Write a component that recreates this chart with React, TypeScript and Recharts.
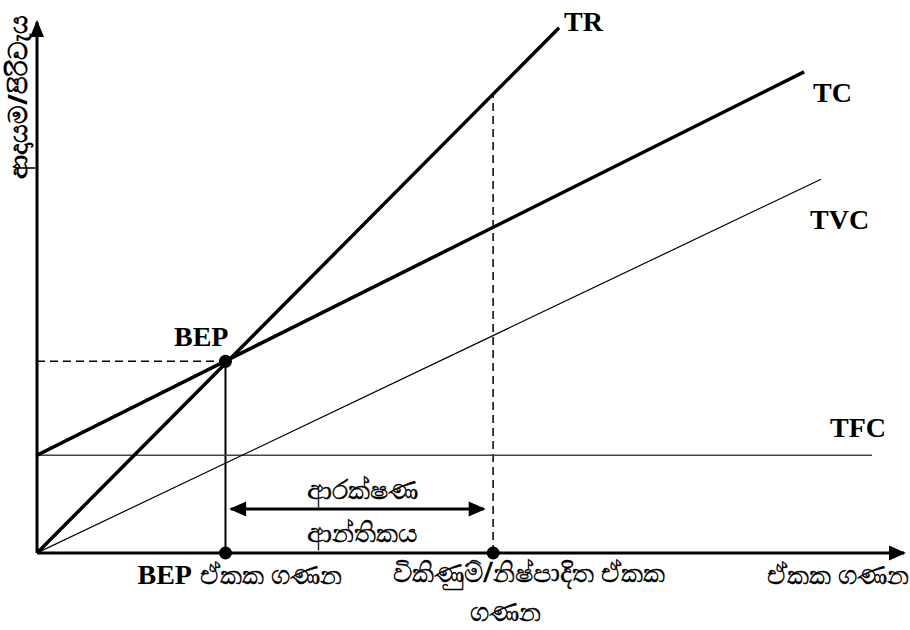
import { LineChart, Line, XAxis, YAxis, ReferenceLine, ReferenceDot } from "recharts";

// x = units, y = revenue / cost
const trQ = [0, 27.7];
const trV = [0, 274];
const tcQ = [0, 40.7];
const tcV = [51, 251];
const tvcQ = [0, 41.6];
const tvcV = [0, 195];
const tfcQ = [0, 44.3];
const tfcV = [51, 51];

const bepQ = 10;
const bepV = 100;
const salesQ = 24.2;
const salesV = 240;
const mosFrom = 10.3;
const mosTo = 23.7;
const mosLevel = 23;
const xMax = 46;
const yMax = 277;

const seriesNames = ["TR", "TC", "TVC", "TFC"];
const yTitle = "ආදායම/පිරිවැය";
const bepTitle = ["BEP", "ඒකක ගණන"];
const salesTitle = ["විකිණුම්/නිෂ්පාදිත ඒකක", "ගණන"];
const xTitle = "ඒකක ගණන";
const mosTitle = ["ආරක්ෂණ", "ආන්තිකය"];

const toRows = (qs: number[], vs: number[]) => qs.map((q, i) => ({ q, v: vs[i] }));

const SERIF = '"Liberation Serif", "Times New Roman", serif';
const SI = '"Noto Sans", "DejaVu Sans", sans-serif';

const serifStyle = { fontFamily: SERIF, fontWeight: 700, fontSize: 28, fill: "#000" };
const siStyle = { fontFamily: SI, fontWeight: 400, fontSize: 27, fill: "#000", stroke: "#000", strokeWidth: 0.5 };

// text placed relative to a reference point
const tag = (text: string, dx: number, dy: number, style: any, anchor = "start") => (p: any) => (
  <text x={p.cx + dx} y={p.cy + dy} textAnchor={anchor} style={style}>
    {text}
  </text>
);

const arrowHead = (dir: "up" | "right" | "left") => (p: any) => {
  const { cx, cy } = p;
  let pts = "";
  if (dir === "right") pts = `${cx + 2},${cy} ${cx - 15},${cy - 7.5} ${cx - 15},${cy + 7.5}`;
  if (dir === "left") pts = `${cx - 2},${cy} ${cx + 15},${cy - 7.5} ${cx + 15},${cy + 7.5}`;
  if (dir === "up") pts = `${cx},${cy - 2} ${cx - 7},${cy + 15} ${cx + 7},${cy + 15}`;
  return <polygon points={pts} fill="#000" />;
};

const dot = (p: any) => <circle cx={p.cx} cy={p.cy} r={6.5} fill="#000" />;

export default function App() {
  return (
    <div style={{ position: "absolute", left: 0, top: 0, background: "#fff" }}>
      <LineChart width={910} height={630} margin={{ top: 22, right: 6, bottom: 77, left: 37 }}>
        <XAxis type="number" dataKey="q" domain={[0, xMax]} hide allowDataOverflow />
        <YAxis type="number" dataKey="v" domain={[0, yMax]} hide allowDataOverflow />

        {/* axes */}
        <ReferenceLine segment={[{ x: 0, y: 0 }, { x: xMax, y: 0 }]} stroke="#000" strokeWidth={3} />
        <ReferenceLine segment={[{ x: 0, y: 0 }, { x: 0, y: yMax }]} stroke="#000" strokeWidth={3} />
        <ReferenceDot x={xMax} y={0} r={0} shape={arrowHead("right")} />
        <ReferenceDot x={0} y={yMax} r={0} shape={arrowHead("up")} />

        {/* guides */}
        <ReferenceLine segment={[{ x: 0, y: bepV }, { x: bepQ, y: bepV }]} stroke="#000" strokeWidth={1.5} strokeDasharray="8 5" />
        <ReferenceLine segment={[{ x: bepQ, y: 0 }, { x: bepQ, y: bepV }]} stroke="#000" strokeWidth={2} />
        <ReferenceLine segment={[{ x: salesQ, y: 0 }, { x: salesQ, y: salesV }]} stroke="#000" strokeWidth={1.5} strokeDasharray="8 5" />
        <ReferenceLine segment={[{ x: mosFrom, y: mosLevel }, { x: mosTo, y: mosLevel }]} stroke="#000" strokeWidth={3} />
        <ReferenceDot x={mosFrom} y={mosLevel} r={0} shape={arrowHead("left")} />
        <ReferenceDot x={mosTo} y={mosLevel} r={0} shape={arrowHead("right")} />

        <Line data={toRows(tfcQ, tfcV)} dataKey="v" stroke="#444" strokeWidth={1.5} dot={false} activeDot={false} isAnimationActive={false} />
        <Line data={toRows(tvcQ, tvcV)} dataKey="v" stroke="#000" strokeWidth={1.2} dot={false} activeDot={false} isAnimationActive={false} />
        <Line data={toRows(tcQ, tcV)} dataKey="v" stroke="#000" strokeWidth={3.5} dot={false} activeDot={false} isAnimationActive={false} />
        <Line data={toRows(trQ, trV)} dataKey="v" stroke="#000" strokeWidth={3.5} dot={false} activeDot={false} isAnimationActive={false} />

        {/* points */}
        <ReferenceDot x={bepQ} y={bepV} r={0} shape={dot} />
        <ReferenceDot x={bepQ} y={0} r={0} shape={dot} />
        <ReferenceDot x={salesQ} y={0} r={0} shape={dot} />

        {/* series labels */}
        <ReferenceDot x={trQ[1]} y={trV[1]} r={0} shape={tag(seriesNames[0], 5, 3, serifStyle)} />
        <ReferenceDot x={tcQ[1]} y={tcV[1]} r={0} shape={tag(seriesNames[1], 9, 30, serifStyle)} />
        <ReferenceDot x={tvcQ[1]} y={tvcV[1]} r={0} shape={tag(seriesNames[2], -11, 50, serifStyle)} />
        <ReferenceDot x={tfcQ[1]} y={tfcV[1]} r={0} shape={tag(seriesNames[3], -42, -18, serifStyle)} />
        <ReferenceDot x={bepQ} y={bepV} r={0} shape={tag("BEP", 3, -15, serifStyle, "end")} />

        {/* axis titles */}
        <ReferenceDot
          x={0}
          y={yMax}
          r={0}
          shape={(p: any) => (
            <text
              x={p.cx - 20}
              y={p.cy + 75}
              textAnchor="middle"
              dominantBaseline="central"
              transform={`rotate(-90, ${p.cx - 20}, ${p.cy + 75})`}
              style={{ ...siStyle, fontWeight: 700, fontSize: 26, strokeWidth: 0 }}
            >
              {yTitle}
            </text>
          )}
        />
        <ReferenceDot
          x={bepQ}
          y={0}
          r={0}
          shape={(p: any) => (
            <text x={p.cx - 88} y={p.cy + 31}>
              <tspan style={serifStyle}>{bepTitle[0]}</tspan>
              <tspan dx={8} style={siStyle}>{bepTitle[1]}</tspan>
            </text>
          )}
        />
        <ReferenceDot x={salesQ} y={0} r={0} shape={tag(salesTitle[0], -100, 29, siStyle)} />
        <ReferenceDot x={salesQ} y={0} r={0} shape={tag(salesTitle[1], 12, 68, siStyle, "middle")} />
        <ReferenceDot x={xMax} y={0} r={0} shape={tag(xTitle, -137, 31, siStyle)} />
        <ReferenceDot x={mosFrom} y={mosLevel} r={0} shape={tag(mosTitle[0], 131, -10, siStyle, "middle")} />
        <ReferenceDot x={mosFrom} y={mosLevel} r={0} shape={tag(mosTitle[1], 131, 33, siStyle, "middle")} />
      </LineChart>
    </div>
  );
}
